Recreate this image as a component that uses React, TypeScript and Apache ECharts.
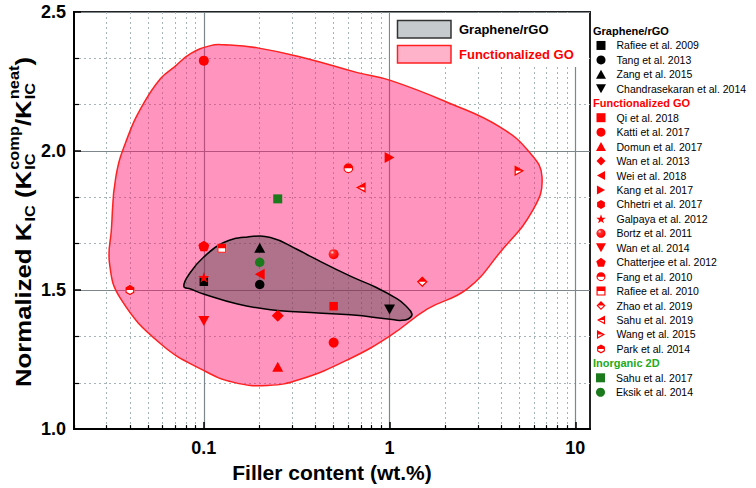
import { useEffect, useRef } from 'react';
import * as echarts from 'echarts';

const FONT = '"Liberation Sans", Arial, Helvetica, sans-serif';

// ---- axes ----
const X_MIN = 0.02;
const X_MAX = 12;
const Y_MIN = 1.0;
const Y_MAX = 2.5;
const Y_STEP = 0.5;
const X_MAJOR = [0.1, 1, 10];
const X_MINOR = [0.02, 0.03, 0.04, 0.05, 0.06, 0.07, 0.08, 0.09, 0.2, 0.3, 0.4, 0.5, 0.6, 0.7, 0.8, 0.9, 2, 3, 4, 5, 6, 7, 8, 9];

// ---- Graphene / rGO ----
const rafiee2009 = [[0.1, 1.53]];
const tang2013 = [[0.2, 1.52]];
const zang2015 = [[0.2, 1.652]];
const chandrasekaran2014 = [[1.0, 1.43]];

// ---- Functionalized GO ----
const qi2018 = [[0.5, 1.442]];
const katti2017 = [[0.1, 2.325], [0.5, 1.311]];
const domun2017 = [[0.25, 1.224]];
const wan2013 = [[0.25, 1.408]];
const wei2018 = [[0.2, 1.557]];
const kang2017 = [[1.0, 1.977]];
const chhetri2017 = [[0.1, 1.658]];
const galpaya2012 = [[0.1, 1.546]];
const bortz2011 = [[0.5, 1.629]];
const wan2014 = [[0.1, 1.389]];
const chatterjee2012 = [[0.1, 1.658]];
const fang2010 = [[0.6, 1.938]];
const rafiee2010 = [[0.125, 1.65]];
const zhao2019 = [[1.5, 1.53]];
const sahu2019 = [[0.7, 1.869]];
const wang2015 = [[5.0, 1.929]];
const park2014 = [[0.04, 1.5]];

// ---- Inorganic 2D ----
const sahu2017 = [[0.25, 1.828]];
const eksik2014 = [[0.2, 1.6]];

// ---- region outlines (wt.%, normalized K) ----
const fgoOutline = [
  [0.0311, 1.593], [0.0318, 1.718], [0.0336, 1.907], [0.0389, 2.05], [0.0474, 2.171],
  [0.0585, 2.261], [0.0687, 2.3], [0.0848, 2.35], [0.1086, 2.379], [0.1276, 2.382],
  [0.1945, 2.371], [0.361, 2.332], [0.671, 2.282], [1.01, 2.254], [2.12, 2.171],
  [3.94, 2.086], [5.71, 1.993], [6.62, 1.907], [5.93, 1.789], [3.94, 1.636],
  [2.62, 1.504], [1.6, 1.432], [1.01, 1.336], [0.615, 1.254], [0.331, 1.179],
  [0.22, 1.157], [0.145, 1.168], [0.0997, 1.211], [0.0585, 1.307], [0.0357, 1.468],
];
const grapheneOutline = [
  [0.078, 1.514], [0.0848, 1.564], [0.0996, 1.618], [0.128, 1.671], [0.172, 1.691],
  [0.2285, 1.689], [0.319, 1.646], [0.375, 1.621], [0.615, 1.55], [0.838, 1.511],
  [1.1, 1.468], [1.21, 1.446], [1.32, 1.414], [1.26, 1.396], [1.14, 1.391],
  [1.01, 1.395], [0.615, 1.411], [0.331, 1.421], [0.2285, 1.429], [0.152, 1.45],
  [0.0996, 1.486], [0.0848, 1.504],
];

const RED = '#ff0000';
const BLACK = '#000000';
const GREEN = '#1b7a1b';

const SYM: Record<string, string> = {
  rect: 'path://M0,0 L20,0 L20,20 L0,20 Z',
  tri: 'path://M10,0 L20,18 L0,18 Z',
  diamond: 'path://M10,0 L20,10 L10,20 L0,10 Z',
  down: 'path://M0,0 L20,0 L10,18 Z',
  left: 'path://M18,0 L18,20 L0,10 Z',
  right: 'path://M0,0 L18,10 L0,20 Z',
  hex: 'path://M10,0 L18.66,5 L18.66,15 L10,20 L1.34,15 L1.34,5 Z',
  pent: 'path://M10,0 L19.51,6.91 L15.88,18.09 L4.12,18.09 L0.49,6.91 Z',
  star: 'path://M10,0 L12.35,6.76 L19.51,6.91 L13.8,11.24 L15.88,18.09 L10,14 L4.12,18.09 L6.2,11.24 L0.49,6.91 L7.65,6.76 Z',
  halfCircle: 'path://M0,10 A10,10 0 1,1 20,10 A10,10 0 1,1 0,10 Z M17.5,10 L2.5,10 A7.5,7.5 0 0,0 17.5,10 Z',
  halfSquare: 'path://M0,0 L20,0 L20,20 L0,20 Z M2.5,10 L2.5,17.5 L17.5,17.5 L17.5,10 Z',
  halfDiamond: 'path://M10,0 L20,10 L10,20 L0,10 Z M16.46,10 L3.54,10 L10,16.46 Z',
  halfLeft: 'path://M18,0 L18,20 L0,10 Z M15.5,10 L5.14,10 L15.5,15.75 Z',
  halfRight: 'path://M0,0 L18,10 L0,20 Z M2.5,15.75 L12.86,10 L2.5,10 Z',
  halfHex: 'path://M10,0 L18.66,5 L18.66,15 L10,20 L1.34,15 L1.34,5 Z M16.16,10 L3.84,10 L3.84,13.56 L10,17.11 L16.16,13.56 Z',
};

type Entry = { name: string; data: number[][]; symbol: string; size: number; color: any; base?: string };

const GRAPHENE: Entry[] = [
  { name: 'Rafiee et al. 2009', data: rafiee2009, symbol: SYM.rect, size: 8.5, color: BLACK },
  { name: 'Tang et al. 2013', data: tang2013, symbol: 'circle', size: 9.5, color: BLACK },
  { name: 'Zang et al. 2015', data: zang2015, symbol: SYM.tri, size: 11, color: BLACK },
  { name: 'Chandrasekaran et al. 2014', data: chandrasekaran2014, symbol: SYM.down, size: 11, color: BLACK },
];
const FGO: Entry[] = [
  { name: 'Qi et al. 2018', data: qi2018, symbol: SYM.rect, size: 8.5, color: RED },
  { name: 'Katti et al. 2017', data: katti2017, symbol: 'circle', size: 10, color: RED },
  { name: 'Domun et al. 2017', data: domun2017, symbol: SYM.tri, size: 11, color: RED },
  { name: 'Wan et al. 2013', data: wan2013, symbol: SYM.diamond, size: 12, color: RED },
  { name: 'Wei et al. 2018', data: wei2018, symbol: SYM.left, size: 11, color: RED },
  { name: 'Kang et al. 2017', data: kang2017, symbol: SYM.right, size: 11, color: RED },
  { name: 'Chhetri et al. 2017', data: chhetri2017, symbol: SYM.hex, size: 10.5, color: RED },
  { name: 'Galpaya et al. 2012', data: galpaya2012, symbol: SYM.star, size: 11, color: RED },
  { name: 'Bortz et al. 2011', data: bortz2011, symbol: 'circle', size: 10, color: 'bortz' },
  { name: 'Wan et al. 2014', data: wan2014, symbol: SYM.down, size: 11, color: RED },
  { name: 'Chatterjee et al. 2012', data: chatterjee2012, symbol: SYM.pent, size: 11, color: RED },
  { name: 'Fang et al. 2010', data: fang2010, symbol: SYM.halfCircle, size: 10, color: RED, base: 'circle' },
  { name: 'Rafiee et al. 2010', data: rafiee2010, symbol: SYM.halfSquare, size: 9, color: RED, base: SYM.rect },
  { name: 'Zhao et al. 2019', data: zhao2019, symbol: SYM.halfDiamond, size: 11, color: RED, base: SYM.diamond },
  { name: 'Sahu et al. 2019', data: sahu2019, symbol: SYM.halfLeft, size: 11, color: RED, base: SYM.left },
  { name: 'Wang et al. 2015', data: wang2015, symbol: SYM.halfRight, size: 11, color: RED, base: SYM.right },
  { name: 'Park et al. 2014', data: park2014, symbol: SYM.halfHex, size: 10.5, color: RED, base: SYM.hex },
];
const INORG: Entry[] = [
  { name: 'Sahu et al. 2017', data: sahu2017, symbol: SYM.rect, size: 9, color: GREEN },
  { name: 'Eksik et al. 2014', data: eksik2014, symbol: 'circle', size: 9.5, color: GREEN },
];

const lg = (v: number) => Math.log10(v);

export default function App() {
  const ref = useRef<HTMLDivElement>(null);
  useEffect(() => {
    if (!ref.current) return;
    const chart = echarts.init(ref.current, undefined, { renderer: 'svg' });

    const bortzFill = new echarts.graphic.RadialGradient(0.35, 0.32, 0.65, [
      { offset: 0, color: '#ffe6e6' },
      { offset: 0.3, color: '#ff3030' },
      { offset: 1, color: '#ff0000' },
    ]);

    const scatterSeries: any[] = [];
    [...GRAPHENE, ...FGO, ...INORG].forEach((e) => {
      const pts = e.data.map(([x, y]) => [lg(x), y]);
      if (e.base) {
        scatterSeries.push({
          type: 'scatter', name: e.name + ' base', data: pts, symbol: e.base, symbolSize: e.size,
          symbolKeepAspect: true, itemStyle: { color: '#ffffff', opacity: 1 }, z: 3, silent: true,
        });
      }
      scatterSeries.push({
        type: 'scatter', name: e.name, data: pts, symbol: e.symbol, symbolSize: e.size,
        symbolKeepAspect: true,
        itemStyle: { color: e.color === 'bortz' ? bortzFill : e.color, opacity: 1 }, z: 4, silent: true,
      });
    });

    const region = (outline: number[][], fill: string, stroke: string) => ({
      type: 'custom',
      coordinateSystem: 'cartesian2d',
      silent: true,
      z: 1,
      data: [[0, 1.5]],
      renderItem: (_p: any, api: any) => ({
        type: 'polygon',
        shape: { points: outline.map(([x, y]) => api.coord([lg(x), y])), smooth: 0.45 },
        style: { fill, stroke, lineWidth: 1.5 },
      }),
    });

    // y-axis title with stacked sub/superscripts
    const ctx = document.createElement('canvas').getContext('2d')!;
    const measure = (t: string, s: number) => {
      ctx.font = `bold ${s}px ${FONT}`;
      return ctx.measureText(t).width;
    };
    const MAIN = 22;
    const SMALL = 14;
    const TITLE_LEN = 330;
    const pieces: any[] = [
      { main: 'Normalized K' },
      { sub: 'IC' },
      { main: ' (K' },
      { sub: 'IC', sup: 'comp' },
      { main: '/K' },
      { sub: 'IC', sup: 'neat' },
      { main: ')' },
    ];
    const tx = (x: number, y: number, t: string, s: number) => ({
      type: 'text', x, y,
      style: { text: t, fontSize: s, fontWeight: 'bold', fontFamily: FONT, fill: '#000', align: 'left', verticalAlign: 'middle' },
    });
    let cx = 0;
    const titleKids: any[] = [];
    pieces.forEach((p) => {
      if (p.main) {
        titleKids.push(tx(cx, 0, p.main, MAIN));
        cx += measure(p.main, MAIN);
      } else {
        titleKids.push(tx(cx + 1, 7, p.sub, SMALL));
        let w = measure(p.sub, SMALL);
        if (p.sup) {
          titleKids.push(tx(cx + 1, -9, p.sup, SMALL));
          w = Math.max(w, measure(p.sup, SMALL));
        }
        cx += w + 1;
      }
    });
    titleKids.forEach((k) => (k.x -= cx / 2));
    const titleScale = TITLE_LEN / cx;

    const legendCommon = {
      orient: 'vertical', left: 596, itemWidth: 21, itemHeight: 9, itemGap: 0, padding: 0,
      selectedMode: false,
      textStyle: { fontSize: 10.5, fontFamily: FONT, color: '#000', lineHeight: 14.45 },
    };
    const ROW = 14.45;
    const row0 = 31;
    const rowTop = (k: number) => row0 + ROW * k - ROW / 2;

    const sectionTitle = (k: number, text: string, color: string) => ({
      type: 'text', x: 593, y: row0 + ROW * k, z: 5,
      style: { text, fontSize: 11, fontWeight: 'bold', fontFamily: FONT, fill: color, verticalAlign: 'middle' },
    });

    const option: any = {
      animation: false,
      backgroundColor: '#ffffff',
      grid: { left: 74, top: 12, right: 166, bottom: 57, show: true, borderColor: '#222', borderWidth: 2, containLabel: false },
      xAxis: [
        {
          type: 'value', min: lg(X_MIN), max: lg(X_MAX), position: 'bottom',
          axisLine: { show: true, onZero: false, lineStyle: { color: '#000', width: 2 } },
          axisTick: { show: true, inside: true, length: 7, customValues: X_MAJOR.map(lg), lineStyle: { color: '#000', width: 1.5 } },
          axisLabel: {
            customValues: X_MAJOR.map(lg), margin: 10, color: '#000', fontSize: 18, fontWeight: 'bold', fontFamily: FONT,
            formatter: (v: number) => String(Math.round(Math.pow(10, v) * 1000) / 1000),
          },
          splitLine: { show: true, lineStyle: { color: '#7d868b', width: 1.2 } },
          name: 'Filler content (wt.%)', nameLocation: 'middle', nameGap: 30,
          nameTextStyle: { fontSize: 21, fontWeight: 'bold', fontFamily: FONT, color: '#000' },
        },
        {
          type: 'value', min: lg(X_MIN), max: lg(X_MAX), position: 'bottom',
          axisLine: { show: false },
          axisTick: { show: true, inside: true, length: 4, customValues: X_MINOR.map(lg), lineStyle: { color: '#000', width: 1.2 } },
          axisLabel: { show: false },
          splitLine: { show: true, lineStyle: { color: '#a7b5bb', width: 1, type: [2, 3] } },
        },
      ],
      yAxis: {
        type: 'value', min: Y_MIN, max: Y_MAX, interval: Y_STEP,
        axisLine: { show: true, onZero: false, lineStyle: { color: '#000', width: 2 } },
        axisTick: { show: true, inside: true, length: 7, lineStyle: { color: '#000', width: 1.5 } },
        minorTick: { show: true, splitNumber: 3, length: 5, lineStyle: { color: '#000', width: 1.2 } },
        axisLabel: { margin: 8, color: '#000', fontSize: 18, fontWeight: 'bold', fontFamily: FONT, formatter: (v: number) => v.toFixed(1) },
        splitLine: { show: true, lineStyle: { color: '#7d868b', width: 1.2 } },
        minorSplitLine: { show: true, lineStyle: { color: '#a7b5bb', width: 1, type: [2, 3] } },
      },
      legend: [
        { ...legendCommon, top: rowTop(1), data: GRAPHENE.map((e) => e.name) },
        { ...legendCommon, top: rowTop(6), data: FGO.map((e) => e.name) },
        { ...legendCommon, top: rowTop(24), data: INORG.map((e) => e.name) },
      ],
      graphic: [
        { type: 'group', x: 23, y: 222, rotation: Math.PI / 2, scaleX: titleScale, children: titleKids },
        sectionTitle(0, 'Graphene/rGO', '#000'),
        sectionTitle(5, 'Functionalized GO', '#ff0000'),
        sectionTitle(23, 'Inorganic 2D', '#22aa22'),
        { type: 'rect', z: 5, shape: { x: 390, y: 13, width: 198.5, height: 54 }, style: { fill: '#ffffff' } },
        { type: 'rect', z: 6, shape: { x: 397.5, y: 20.5, width: 53.5, height: 17.5 }, style: { fill: '#c6ccce', stroke: '#333', lineWidth: 1.5 } },
        { type: 'rect', z: 6, shape: { x: 397.5, y: 45.5, width: 53.5, height: 17.5 }, style: { fill: '#ffb3cb', stroke: '#ff2020', lineWidth: 1.5 } },
        { type: 'text', z: 6, x: 459, y: 29.5, style: { text: 'Graphene/rGO', fontSize: 13, fontWeight: 'bold', fontFamily: FONT, fill: '#000', verticalAlign: 'middle' } },
        { type: 'text', z: 6, x: 459, y: 54.5, style: { text: 'Functionalized GO', fontSize: 13, fontWeight: 'bold', fontFamily: FONT, fill: '#ff0000', verticalAlign: 'middle' } },
      ],
      series: [
        region(fgoOutline, 'rgba(255,20,110,0.45)', '#ff2020'),
        region(grapheneOutline, 'rgba(70,70,70,0.43)', '#000'),
        ...scatterSeries,
      ],
    };
    chart.setOption(option);
    return () => chart.dispose();
  }, []);

  return <div ref={ref} style={{ position: 'fixed', left: 0, top: 0, width: 756, height: 488 }} />;
}
